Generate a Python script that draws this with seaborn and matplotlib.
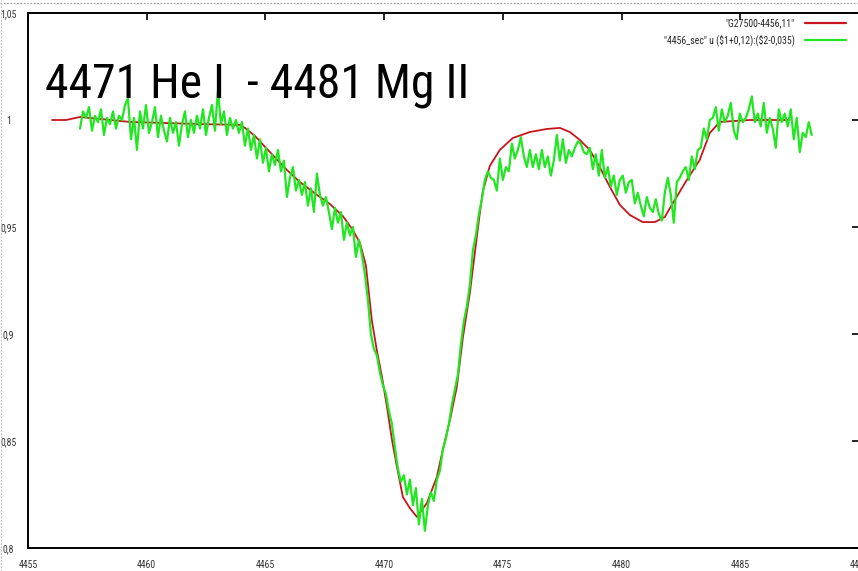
import numpy as np
import pandas as pd
import matplotlib
matplotlib.use("Agg")
import matplotlib.pyplot as plt
from matplotlib import font_manager
from matplotlib.font_manager import FontProperties
from matplotlib.lines import Line2D
import seaborn as sns

# Synthetic model spectrum (wavelength in Angstrom, normalised flux)
model_wl = [4456.01, 4456.60, 4457.19, 4458.03, 4459.29, 4460.77, 4462.24, 4463.93,
            4464.14, 4464.56, 4465.19, 4465.91, 4466.45, 4467.17, 4467.72, 4468.26,
            4468.68, 4468.98, 4469.23, 4469.48, 4469.69, 4469.91, 4470.12, 4470.33,
            4470.54, 4470.79, 4471.08, 4471.38, 4471.80, 4472.22, 4472.47, 4472.77,
            4473.06, 4473.32, 4473.61, 4473.82, 4474.03, 4474.16, 4474.45, 4474.87,
            4475.42, 4476.14, 4476.85, 4477.40, 4477.82, 4478.24, 4478.66, 4479.08,
            4479.51, 4479.93, 4480.35, 4480.89, 4481.40, 4481.82, 4482.24, 4482.75,
            4483.29, 4483.72, 4484.14, 4485.40, 4487.08]
model_flux = [1.0000, 1.0000, 1.0014, 1.0005, 0.9991, 0.9986, 0.9981, 0.9977,
              0.9963, 0.9925, 0.9850, 0.9766, 0.9710, 0.9650, 0.9607, 0.9551,
              0.9486, 0.9425, 0.9322, 0.9065, 0.8925, 0.8799, 0.8659, 0.8505,
              0.8379, 0.8238, 0.8187, 0.8145, 0.8210, 0.8332, 0.8458, 0.8598,
              0.8752, 0.8986, 0.9192, 0.9379, 0.9565, 0.9668, 0.9785, 0.9860,
              0.9916, 0.9944, 0.9958, 0.9963, 0.9944, 0.9907, 0.9860, 0.9780,
              0.9687, 0.9603, 0.9556, 0.9523, 0.9523, 0.9547, 0.9626, 0.9720,
              0.9813, 0.9940, 0.9991, 1.0000, 1.0000]

# Observed spectrum, shifted (+0.12 A, -0.035 in flux), evenly sampled
obs_start, obs_end = 4457.19, 4488.01
obs_flux = [
    0.996, 1.004, 1.001, 1.006, 0.995, 1.002, 0.999, 1.005, 0.993, 1.001,
    0.998, 1.004, 0.996, 1.002, 1.000, 1.007, 1.010, 0.991, 1.001, 0.986,
    1.004, 0.996, 1.007, 0.994, 0.999, 1.006, 0.992, 1.002, 0.995, 0.990,
    1.001, 0.994, 0.999, 0.988, 0.998, 1.004, 0.992, 1.000, 0.994, 1.002,
    0.996, 1.005, 0.993, 1.001, 1.007, 0.995, 1.014, 0.998, 1.004, 0.993,
    1.001, 0.996, 1.000, 0.994, 0.999, 0.988, 0.996, 0.986, 0.993, 0.982,
    0.991, 0.980, 0.987, 0.976, 0.984, 0.979, 0.986, 0.976, 0.981, 0.964,
    0.973, 0.978, 0.967, 0.972, 0.965, 0.971, 0.960, 0.968, 0.957, 0.975,
    0.965, 0.960, 0.964, 0.957, 0.949, 0.959, 0.952, 0.957, 0.944, 0.952,
    0.946, 0.950, 0.936, 0.944, 0.937, 0.928, 0.916, 0.900, 0.893, 0.890,
    0.882, 0.876, 0.872, 0.864, 0.858, 0.847, 0.837, 0.831, 0.834, 0.825,
    0.832, 0.820, 0.828, 0.811, 0.823, 0.808, 0.820, 0.826, 0.822, 0.832,
    0.836, 0.846, 0.851, 0.858, 0.867, 0.874, 0.881, 0.895, 0.906, 0.913,
    0.923, 0.939, 0.946, 0.956, 0.963, 0.972, 0.976, 0.973, 0.972, 0.967,
    0.982, 0.972, 0.978, 0.976, 0.989, 0.982, 0.986, 0.992, 0.983, 0.978,
    0.986, 0.978, 0.984, 0.977, 0.986, 0.978, 0.983, 0.974, 0.981, 0.993,
    0.981, 0.991, 0.980, 0.986, 0.983, 0.987, 0.990, 0.989, 0.985, 0.984,
    0.987, 0.977, 0.984, 0.974, 0.986, 0.973, 0.978, 0.969, 0.974, 0.965,
    0.972, 0.974, 0.966, 0.971, 0.972, 0.961, 0.966, 0.960, 0.955, 0.964,
    0.959, 0.957, 0.963, 0.956, 0.953, 0.966, 0.973, 0.965, 0.952, 0.971,
    0.973, 0.976, 0.978, 0.972, 0.983, 0.977, 0.986, 0.987, 0.996, 0.991,
    1.000, 1.001, 1.006, 0.995, 1.005, 0.999, 1.002, 1.008, 0.995, 0.991,
    1.003, 0.999, 1.001, 1.005, 1.011, 0.999, 1.003, 0.997, 1.008, 0.994,
    1.001, 0.996, 0.987, 1.005, 0.999, 1.003, 0.997, 1.005, 0.991, 1.001,
    0.985, 0.994, 0.992, 0.999, 0.993,
]

title_text = "4471 He I  - 4481 Mg II"
model_label = '"G27500-4456,11"'
obs_label = '"4456_sec" u (\\$1+0,12):(\\$2-0,035)'
x_ticks = [4455, 4460, 4465, 4470, 4475, 4480, 4485, 4490]
x_tick_labels = ["4455", "4460", "4465", "4470", "4475", "4480", "4485", "4490"]
y_ticks = [0.80, 0.85, 0.90, 0.95, 1.00, 1.05]
y_tick_labels = ["0,8", "0,85", "0,9", "0,95", "1", "1,05"]

sns.set_style("white")
plt.rcParams["font.family"] = ["Liberation Sans", "DejaVu Sans"]


def pick_narrow_font():
    """Return the file of an upright regular-weight condensed sans face, if any."""
    prefs = ["Liberation Sans Narrow", "Arial Narrow", "Roboto Condensed",
             "Noto Sans Condensed", "Open Sans Condensed", "DejaVu Sans Condensed",
             "Noto Sans SemiCondensed", "Open Sans SemiCondensed"]
    cands = []
    for f in font_manager.fontManager.ttflist:
        stretch = f.stretch
        if isinstance(stretch, str):
            stretch = {"ultra-condensed": 50, "extra-condensed": 62.5,
                       "condensed": 75, "semi-condensed": 87.5}.get(stretch, 100)
        name_narrow = ("Narrow" in f.name) or ("Condensed" in f.name)
        if not (name_narrow or stretch <= 87.5):
            continue
        if f.style != "normal":
            continue
        weight = f.weight if isinstance(f.weight, (int, float)) else \
            {"normal": 400, "regular": 400, "book": 400}.get(f.weight, 700)
        if weight != 400:
            continue
        if "Light" in f.fname or "Bold" in f.fname or "Medium" in f.fname:
            continue
        rank = prefs.index(f.name) if f.name in prefs else len(prefs)
        cands.append((rank, stretch if stretch <= 87.5 else 80, f.fname))
    if not cands:
        return None
    cands.sort()
    return cands[0][2]


narrow_file = pick_narrow_font()


def fp(size):
    if narrow_file:
        return FontProperties(fname=narrow_file, size=size)
    return FontProperties(family=["Liberation Sans", "DejaVu Sans"], size=size)


model_df = pd.DataFrame({"wavelength": model_wl, "flux": model_flux})
obs_df = pd.DataFrame({"wavelength": np.linspace(obs_start, obs_end, len(obs_flux)),
                       "flux": obs_flux})

W, H = 858, 571
fig = plt.figure(figsize=(W / 100, H / 100), dpi=100)
ax = fig.add_axes([28 / W, 23 / H, (859 - 28) / W, (548 - 13) / H])

sns.lineplot(data=model_df, x="wavelength", y="flux", ax=ax, color="#c8141e",
             linewidth=1.3, sort=False, estimator=None, label=model_label)
sns.lineplot(data=obs_df, x="wavelength", y="flux", ax=ax, color="#22e622",
             linewidth=1.6, sort=False, estimator=None, label=obs_label)

ax.set_xlim(4455, 4490)
ax.set_ylim(0.8, 1.05)
ax.set_xticks(x_ticks)
ax.set_xticklabels(x_tick_labels)
ax.set_yticks(y_ticks)
ax.set_yticklabels(y_tick_labels)
ax.set_xlabel("")
ax.set_ylabel("")
ax.tick_params(direction="in", length=5, width=1.2, top=True, right=True,
               labelcolor="#333333", color="black")
ax.tick_params(axis="x", pad=9)
ax.tick_params(axis="y", pad=14)
tick_fp = fp(7.0)
for lab in ax.get_xticklabels():
    lab.set_fontproperties(tick_fp)
for lab in ax.get_yticklabels():
    lab.set_fontproperties(tick_fp)
    lab.set_horizontalalignment("center")
for sp in ax.spines.values():
    sp.set_visible(True)
    sp.set_color("black")
    sp.set_linewidth(1.4)

leg = ax.legend(loc="upper right", bbox_to_anchor=(846 / W, 1 - 18 / H),
                bbox_transform=fig.transFigure, frameon=False, markerfirst=False,
                prop=fp(7.0), handlelength=4.2, handletextpad=1.1,
                labelspacing=0.65, borderpad=0, borderaxespad=0)
for line in leg.get_lines():
    line.set_linewidth(1.6)

title = fig.text(45 / W, 1 - 98 / H, title_text, color="black",
                 ha="left", va="baseline", fontproperties=fp(42))

# keep the heading about 425 px wide, whatever face was found
fig.canvas.draw()
width = title.get_window_extent().width
title.set_fontproperties(fp(42 * 425 / width))

# dotted window frame along the top and left edges
fig.add_artist(Line2D([0, 1], [1 - 3 / H, 1 - 3 / H], transform=fig.transFigure,
                      color="#999999", linewidth=0.8, linestyle=(0, (1.5, 1.5))))
fig.add_artist(Line2D([1 / W, 1 / W], [0, 1], transform=fig.transFigure,
                      color="#bbbbbb", linewidth=0.8, linestyle=(0, (1.5, 1.5))))

fig.savefig("out.png", dpi=100)
